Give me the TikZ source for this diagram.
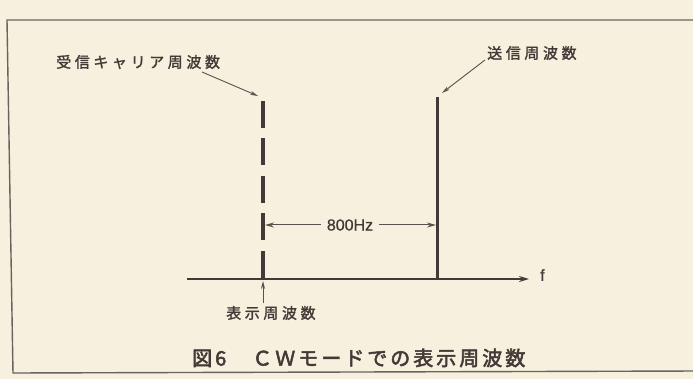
\documentclass[tikz,border=0pt]{standalone}
\usepackage{fontspec}
\setmainfont{Noto Sans CJK JP}
\newfontfamily\jplab[LetterSpace=24,FakeBold=1.6]{Noto Sans CJK JP}
\newfontfamily\jpcap[LetterSpace=15,FakeBold=2.6]{Noto Sans CJK JP}
\newfontfamily\latin[FakeBold=0.8]{Liberation Sans}
\usetikzlibrary{arrows.meta}
\definecolor{paper}{HTML}{F6F0DE}
\definecolor{ink}{HTML}{433936}
\definecolor{thin}{HTML}{5A504C}
\tikzset{
  x=1pt, y=-1pt,
  framestyle/.style={draw=thin!90, line width=1.4pt},
  freq/.style={draw=ink, line width=3.2pt},
  axisstyle/.style={draw=ink, line width=1.8pt, -{Stealth[length=10pt,width=6pt]}},
  ptr/.style={draw=thin, line width=0.9pt, -{Stealth[length=8pt,width=4pt]}},
  dimstyle/.style={draw=thin, line width=1pt, -{Stealth[length=9pt,width=5pt]}},
  labstyle/.style={font={\jplab\fontsize{15}{15}\selectfont}, text=ink, inner sep=0pt, anchor=west},
  capstyle/.style={font={\jpcap\fontsize{20}{20}\selectfont}, text=ink, inner sep=0pt, anchor=west},
  latstyle/.style={font={\latin\fontsize{16}{16}\selectfont}, text=ink, inner sep=0pt},
}
\begin{document}
\begin{tikzpicture}
\fill[paper] (0,0) rectangle (693,379);
\useasboundingbox (0,0) rectangle (693,379);
\clip (0,0) rectangle (693,379);
% frame
\draw[framestyle] (700,20) -- (7,20) -- (13,373) -- (700,371);
% axis
\coordinate (ax0) at (187,279);
\coordinate (ax1) at (529,279);
\draw[axisstyle] (ax0) -- (ax1);
\node[latstyle, anchor=west] (f) at (540,275) {f};
% received carrier (dashed)
\coordinate (rtop) at (263,101);
\coordinate (rbot) at (263,279);
\draw[freq, dash pattern=on 27pt off 10.5pt] (rtop) -- (rbot);
% transmit (solid)
\coordinate (ttop) at (437.5,97);
\coordinate (tbot) at (437.5,279);
\draw[freq] (ttop) -- (tbot);
% labels
\node[labstyle] (lrx) at (56,62) {受信キャリア周波数};
\node[labstyle] (ltx) at (487,53) {送信周波数};
\node[labstyle] (ldisp) at (226,313) {表示周波数};
% pointers
\coordinate (p1s) at (202,72);
\coordinate (p1e) at (258,96);
\draw[ptr] (p1s) -- (p1e);
\coordinate (p2s) at (485,60);
\coordinate (p2e) at (442,93);
\draw[ptr] (p2s) -- (p2e);
\coordinate (p3s) at (263,303);
\coordinate (p3e) at (263,281);
\draw[ptr] (p3s) -- (p3e);
% 800Hz dimension
\node[latstyle, inner xsep=6pt] (hz) at (350,225) {800Hz};
\coordinate (dl) at (265,225);
\coordinate (dr) at (436,225);
\draw[dimstyle] (hz.west) -- (dl);
\draw[dimstyle] (hz.east) -- (dr);
% caption
\node[capstyle] (caption) at (192,358) {図6　ＣＷモードでの表示周波数};
\end{tikzpicture}
\end{document}
